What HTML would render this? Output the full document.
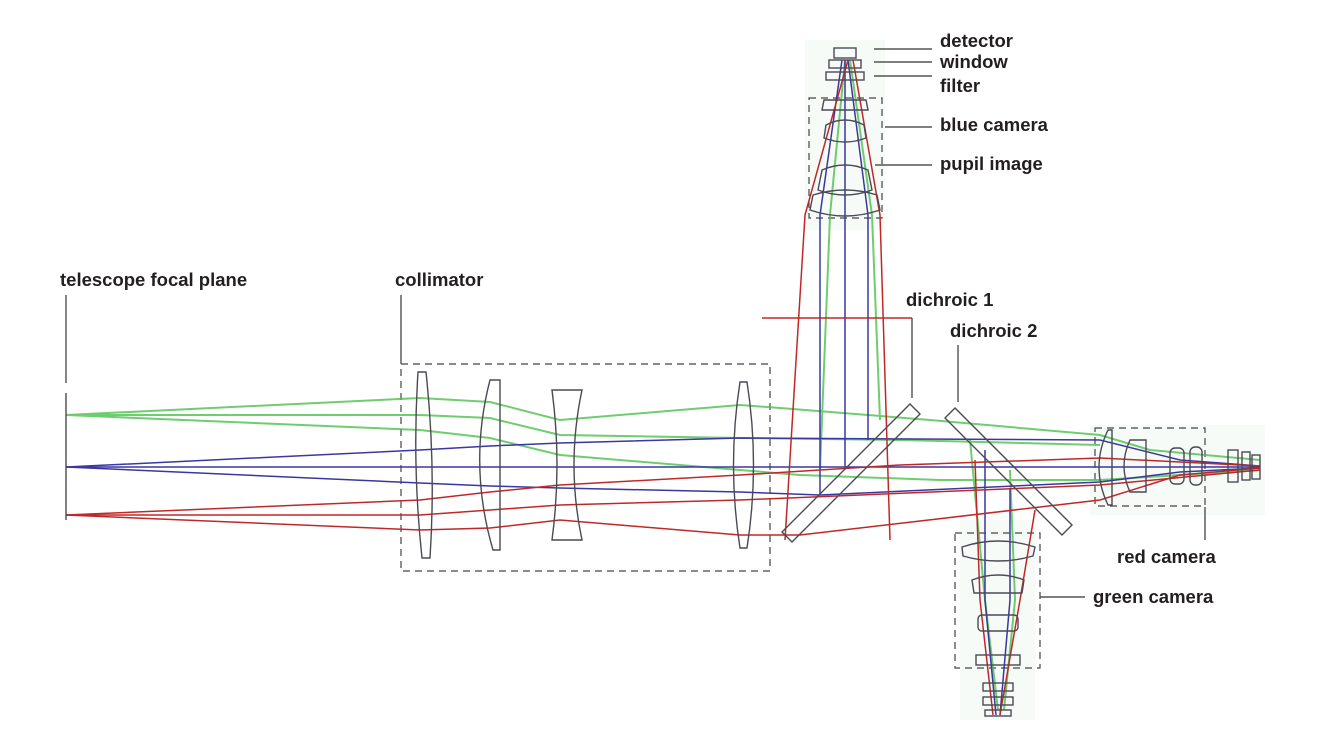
<!DOCTYPE html>
<html><head><meta charset="utf-8"><style>
html,body{margin:0;padding:0;background:#fff;}
svg{display:block;}
text{font-family:"Liberation Sans",sans-serif;font-weight:bold;font-size:18.5px;fill:#231f20;}
</style></head><body>
<svg width="1320" height="748" viewBox="0 0 1320 748" xmlns="http://www.w3.org/2000/svg">
<g opacity="0.08">
<rect x="805" y="40" width="80" height="190" fill="#9fd09f"/>
<rect x="960" y="520" width="75" height="200" fill="#9fd09f"/>
<rect x="1090" y="425" width="175" height="90" fill="#9fd09f"/>
</g>
<g>
<text x="60" y="286">telescope focal plane</text>
<text x="395" y="286">collimator</text>
<text x="906" y="306">dichroic 1</text>
<text x="950" y="337">dichroic 2</text>
<text x="940" y="47">detector</text>
<text x="940" y="68">window</text>
<text x="940" y="92">filter</text>
<text x="940" y="131">blue camera</text>
<text x="940" y="170">pupil image</text>
<text x="1117" y="563">red camera</text>
<text x="1093" y="603">green camera</text>
</g>
<g stroke="#333" stroke-width="1.2" fill="none">
<line x1="66" y1="295" x2="66" y2="383"/>
<line x1="401" y1="295" x2="401" y2="364"/>
<line x1="912" y1="318" x2="912" y2="398"/>
<line x1="958" y1="345" x2="958" y2="402"/>
<line x1="874" y1="49" x2="932" y2="49"/>
<line x1="874" y1="62" x2="932" y2="62"/>
<line x1="874" y1="76" x2="932" y2="76"/>
<line x1="885" y1="127" x2="932" y2="127"/>
<line x1="875" y1="165" x2="932" y2="165"/>
<line x1="1205" y1="507" x2="1205" y2="540"/>
<line x1="1040" y1="597" x2="1085" y2="597"/>
</g>
<g stroke="#444" stroke-width="1.2" fill="none" stroke-dasharray="7,5">
<rect x="401" y="364" width="369" height="207"/>
<rect x="809" y="98" width="73" height="120"/>
<rect x="1095" y="428" width="110" height="78"/>
<rect x="955" y="533" width="85" height="135"/>
</g>
<g stroke="#4cc04c" stroke-width="2" fill="none" opacity="0.8">
<polyline points="66,415 420,398 490,402 560,420 740,405 780,408 930,420 1100,435 1150,450 1260,460"/>
<polyline points="66,415 420,415 490,418 560,435 740,438 900,440 1100,445"/>
<polyline points="66,415 420,430 490,438 560,455 740,470 800,475 940,480 1100,480 1260,470"/>
<polyline points="820,470 830,215 845,60"/>
<polyline points="880,420 872,215 850,60"/>
<polyline points="970,440 985,600 998,710"/>
<polyline points="1010,470 1015,600 1004,710"/>
</g>
<g stroke="#3838a0" stroke-width="1.5" fill="none">
<polyline points="66,467 420,450 490,446 560,443 740,438 1100,440 1180,460 1260,466"/>
<polyline points="66,467 420,467 740,467 1100,467 1260,467"/>
<polyline points="66,467 420,483 490,486 560,488 740,492 820,495 1100,482 1180,472 1260,468"/>
<polyline points="820,495 820,215 842,60"/>
<polyline points="845,467 845,60"/>
<polyline points="868,440 868,215 848,60"/>
<polyline points="985,450 985,600 996,715"/>
<polyline points="1010,488 1010,600 1000,715"/>
</g>
<g stroke="#c02828" stroke-width="1.5" fill="none">
<polyline points="66,515 420,500 490,492 560,485 740,475 900,465 1100,458 1180,462 1260,466"/>
<polyline points="66,515 420,515 490,510 560,505 740,500 1100,485 1260,470"/>
<polyline points="66,515 420,530 490,528 560,520 740,535 800,535 1100,500 1180,475 1260,468"/>
<polyline points="785,540 805,215 848,60"/>
<polyline points="890,540 880,215 853,60"/>
<polyline points="975,460 980,600 993,715"/>
<polyline points="1035,510 1020,600 1000,715"/>
<line x1="762" y1="318" x2="912" y2="318"/>
</g>
<g stroke="#4a4a55" stroke-width="1.4" fill="none">
<line x1="66" y1="393" x2="66" y2="520"/>
<path d="M418,372 L426,372 Q436,465 430,558 L422,558 Q412,465 418,372 Z"/>
<path d="M490,380 L500,380 L500,550 L493,550 Q468,465 490,380 Z"/>
<path d="M552,390 L582,390 Q566,465 582,540 L552,540 Q562,465 552,390 Z"/>
<path d="M740,382 L747,382 Q760,465 747,548 L740,548 Q727,465 740,382 Z"/>
<path d="M782,532 L910,404 L920,414 L792,542 Z"/>
<path d="M945,418 L955,408 L1072,525 L1062,535 Z"/>
<rect x="834" y="48" width="22" height="10"/>
<rect x="829" y="60" width="32" height="8"/>
<rect x="826" y="72" width="38" height="8"/>
<path d="M824,100 L866,100 L868,110 L822,110 Z"/>
<path d="M826,125 Q845,115 864,125 L866,138 Q845,146 824,138 Z"/>
<path d="M822,170 Q845,160 868,170 L872,190 Q845,200 818,190 Z"/>
<path d="M813,195 Q845,185 877,195 L880,210 Q845,222 810,210 Z"/>
<path d="M1108,430 L1112,430 L1112,505 L1108,505 Q1090,467 1108,430 Z"/>
<path d="M1130,440 L1146,440 L1146,492 L1130,492 Q1118,466 1130,440 Z"/>
<rect x="1170" y="448" width="14" height="36" rx="5"/>
<rect x="1190" y="447" width="12" height="38" rx="5"/>
<rect x="1228" y="450" width="10" height="32"/>
<rect x="1242" y="452" width="8" height="28"/>
<rect x="1252" y="455" width="8" height="24"/>
<path d="M962,547 Q998,535 1035,547 L1033,556 Q998,566 963,556 Z"/>
<path d="M972,580 Q998,570 1024,580 L1022,593 L974,593 Z"/>
<rect x="978" y="615" width="40" height="16" rx="4"/>
<rect x="976" y="655" width="44" height="10"/>
<rect x="983" y="683" width="30" height="8"/>
<rect x="983" y="697" width="30" height="8"/>
<rect x="985" y="710" width="26" height="6"/>
</g>
</svg>
</body></html>
